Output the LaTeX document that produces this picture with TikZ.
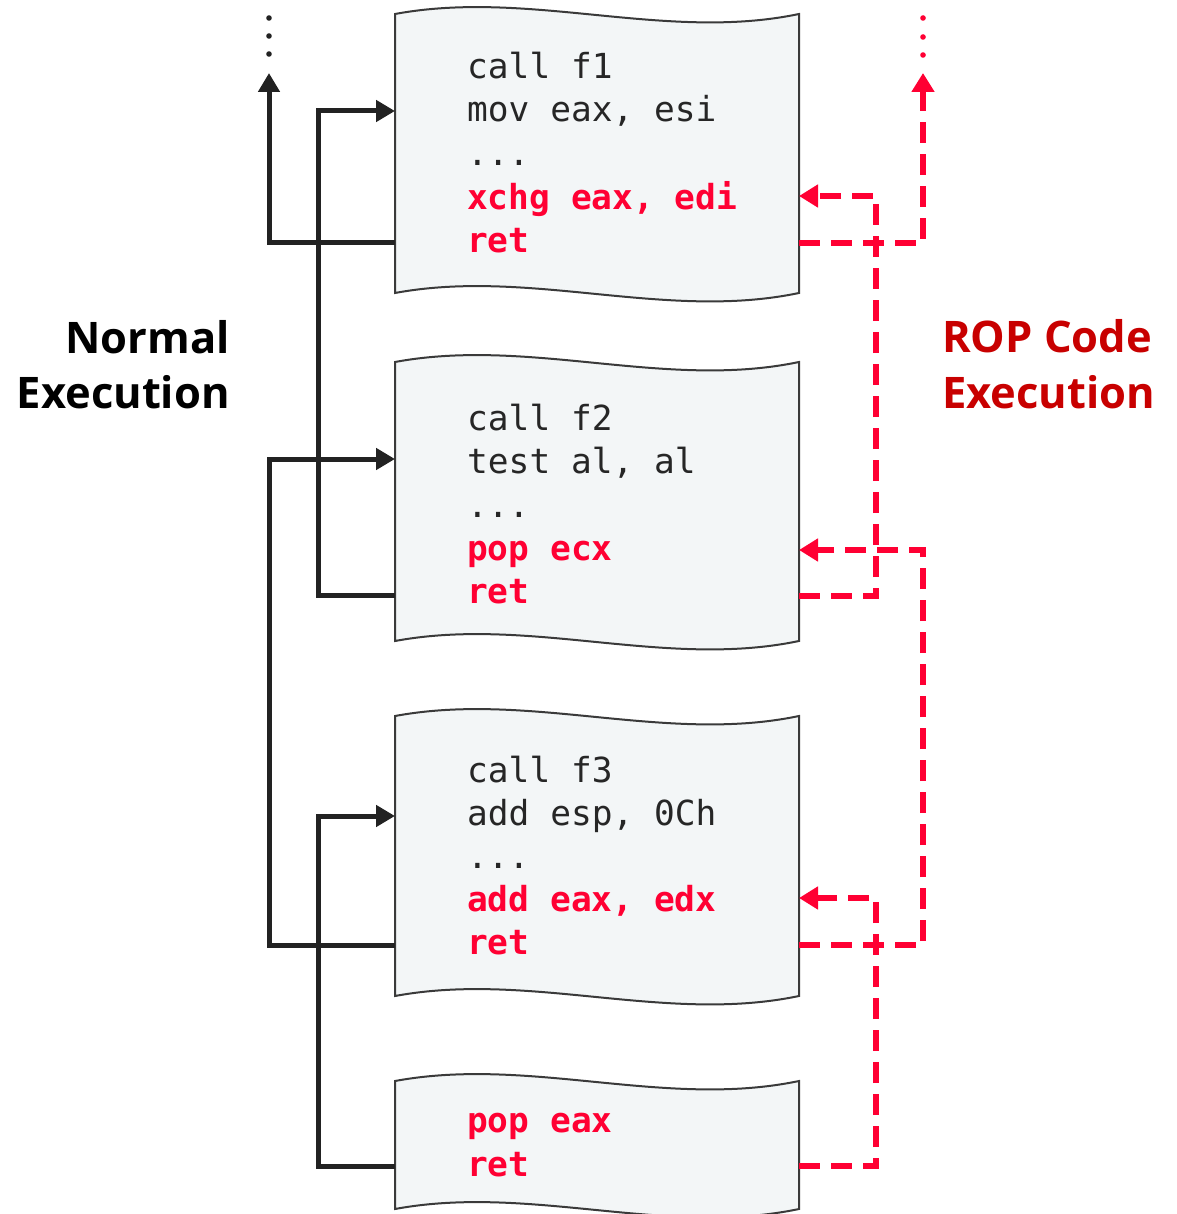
\documentclass[tikz,border=0pt]{standalone}
\usepackage{fontspec}
\setmainfont{Open Sans}
\newfontfamily\codefont{DejaVu Sans Mono}
\usetikzlibrary{arrows.meta}
\definecolor{codeblack}{HTML}{262626}
\definecolor{flowblack}{HTML}{222222}
\definecolor{codered}{HTML}{FF0033}
\definecolor{labelred}{HTML}{C80000}
\definecolor{boxfill}{HTML}{F3F6F7}
\definecolor{boxline}{HTML}{3A3A3A}
\tikzset{
  codebox/.style={fill=boxfill, draw=boxline, line width=2pt},
  codeline/.style={anchor=base west, inner sep=0pt, text=codeblack,
    font=\codefont\fontsize{34.5}{34.5}\selectfont},
  gadget/.style={codeline, text=codered,
    font=\codefont\bfseries\fontsize{34.5}{34.5}\selectfont},
  sidelabel/.style={inner sep=0pt, font=\bfseries\fontsize{43.5}{43.5}\selectfont},
  normalflow/.style={draw=flowblack, line width=5pt,
    -{Triangle[length=19pt,width=21pt]}},
  ropflow/.style={draw=codered, line width=6pt, dash pattern=on 21pt off 11pt,
    -{Triangle[length=19pt,width=22pt]}},
  dotmark/.style={fill=#1},
}
\newcommand\wavebox[2]{%
  \path[codebox] (395,#1) .. controls (530,#1-25) and (665,#1+28) .. (799,#1)
    -- (799,#2) .. controls (665,#2+28) and (530,#2-25) .. (395,#2) -- cycle;}
\begin{document}
\begin{tikzpicture}[x=1pt,y=-1pt]
\useasboundingbox (0,0) rectangle (1176,1214);

% boxes
\wavebox{14}{293}
\wavebox{362}{641}
\wavebox{716}{996}
\wavebox{1081}{1209}

% box 1
\node[codeline] (b1l1) at (467,79) {call f1};
\node[codeline] (b1l2) at (467,122) {mov eax, esi};
\node[codeline] (b1l3) at (467,166) {...};
\node[gadget]   (b1l4) at (467,210) {xchg eax, edi};
\node[gadget]   (b1l5) at (467,253) {ret};
% box 2
\node[codeline] (b2l1) at (467,430) {call f2};
\node[codeline] (b2l2) at (467,473) {test al, al};
\node[codeline] (b2l3) at (467,517) {...};
\node[gadget]   (b2l4) at (467,560) {pop ecx};
\node[gadget]   (b2l5) at (467,603) {ret};
% box 3
\node[codeline] (b3l1) at (467,782) {call f3};
\node[codeline] (b3l2) at (467,825) {add esp, 0Ch};
\node[codeline] (b3l3) at (467,868) {...};
\node[gadget]   (b3l4) at (467,911) {add eax, edx};
\node[gadget]   (b3l5) at (467,954) {ret};
% box 4
\node[gadget]   (b4l1) at (467,1132) {pop eax};
\node[gadget]   (b4l2) at (467,1176) {ret};

% side labels
\node[sidelabel, anchor=base east] (nl1) at (230,353) {Normal};
\node[sidelabel, anchor=base east] (nl2) at (230,408) {Execution};
\node[sidelabel, anchor=base west, text=labelred] (rl1) at (942,352) {ROP Code};
\node[sidelabel, anchor=base west, text=labelred] (rl2) at (942,408) {Execution};

% connector end points on box edges
\coordinate (b1inL)  at (395,111);
\coordinate (b1retL) at (395,243);
\coordinate (b2inL)  at (395,459);
\coordinate (b2retL) at (395,595);
\coordinate (b3inL)  at (395,816);
\coordinate (b3retL) at (395,945);
\coordinate (b4retL) at (395,1166);
\coordinate (b1inR)  at (799,196);
\coordinate (b1retR) at (799,243);
\coordinate (b2inR)  at (799,550);
\coordinate (b2retR) at (799,596);
\coordinate (b3inR)  at (799,898);
\coordinate (b3retR) at (799,945);
\coordinate (b4retR) at (799,1166);
\coordinate (topL) at (269,73);
\coordinate (topR) at (923,73);

% normal execution
\draw[normalflow] (b1retL) -| (topL);
\draw[normalflow] (b2retL) -- ++(-77,0) |- (b1inL);
\draw[normalflow] (b3retL) -- ++(-126,0) |- (b2inL);
\draw[normalflow] (b4retL) -- ++(-77,0) |- (b3inL);
\foreach \yy in {18,36,54} \fill[dotmark=flowblack] (269,\yy) circle (2.8pt);

% ROP execution
\draw[ropflow] (b1retR) -| (topR);
\draw[ropflow] (b2retR) -- ++(77,0) |- (b1inR);
\draw[ropflow] (b3retR) -- ++(124,0) |- (b2inR);
\draw[ropflow] (b4retR) -- ++(77,0) |- (b3inR);
\foreach \yy in {18,37,55} \fill[dotmark=codered] (923,\yy) circle (2.8pt);
\end{tikzpicture}
\end{document}
